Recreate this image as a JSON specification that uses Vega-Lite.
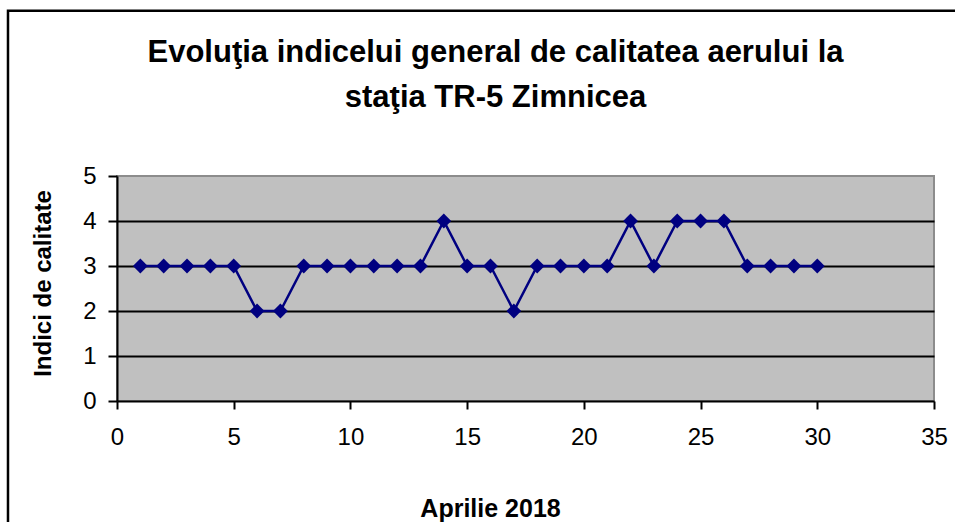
{
  "$schema": "https://vega.github.io/schema/vega-lite/v6.json",
  "width": 817,
  "height": 225,
  "autosize": {"type": "none"},
  "padding": {"left": 117, "top": 176, "right": 21, "bottom": 121},
  "background": "white",
  "title": {
    "text": ["Evoluţia indicelui general de calitatea aerului la", "staţia TR-5 Zimnicea"],
    "font": "Liberation Sans",
    "fontSize": 31,
    "fontWeight": "bold",
    "color": "black",
    "lineHeight": 45,
    "anchor": "middle",
    "frame": "group",
    "dx": -30,
    "baseline": "alphabetic",
    "offset": -128
  },
  "config": {
    "view": {"fill": "#C0C0C0", "stroke": "#8c8c8c", "strokeWidth": 2},
    "font": "Liberation Sans"
  },
  "data": {
    "values": [
      {"day": 1, "index": 3}, {"day": 2, "index": 3}, {"day": 3, "index": 3}, {"day": 4, "index": 3},
      {"day": 5, "index": 3}, {"day": 6, "index": 2}, {"day": 7, "index": 2}, {"day": 8, "index": 3},
      {"day": 9, "index": 3}, {"day": 10, "index": 3}, {"day": 11, "index": 3}, {"day": 12, "index": 3},
      {"day": 13, "index": 3}, {"day": 14, "index": 4}, {"day": 15, "index": 3}, {"day": 16, "index": 3},
      {"day": 17, "index": 2}, {"day": 18, "index": 3}, {"day": 19, "index": 3}, {"day": 20, "index": 3},
      {"day": 21, "index": 3}, {"day": 22, "index": 4}, {"day": 23, "index": 3}, {"day": 24, "index": 4},
      {"day": 25, "index": 4}, {"day": 26, "index": 4}, {"day": 27, "index": 3}, {"day": 28, "index": 3},
      {"day": 29, "index": 3}, {"day": 30, "index": 3}
    ]
  },
  "layer": [
    {
      "mark": {"type": "line", "color": "#000080", "strokeWidth": 2.5},
      "encoding": {
        "x": {
          "field": "day", "type": "quantitative",
          "scale": {"domain": [0, 35], "nice": false, "zero": false},
          "axis": {
            "values": [0, 5, 10, 15, 20, 25, 30, 35],
            "title": "Aprilie 2018",
            "titleX": 373, "titleY": 115, "titleBaseline": "alphabetic", "titleAlign": "center",
            "titleFontSize": 25, "titleFontWeight": "bold", "titleColor": "black",
            "labelFontSize": 24, "labelColor": "black", "labelPadding": 16,
            "labelFlush": false, "labelOverlap": false,
            "tickSize": 8, "tickColor": "black", "tickWidth": 2,
            "domainColor": "black", "domainWidth": 2, "grid": false
          }
        },
        "y": {
          "field": "index", "type": "quantitative",
          "scale": {"domain": [0, 5], "nice": false},
          "axis": {
            "values": [0, 1, 2, 3, 4, 5],
            "title": "Indici de calitate",
            "titleX": -67, "titleY": 107, "titleBaseline": "alphabetic", "titleAlign": "center", "titleAngle": -90,
            "titleFontSize": 24, "titleFontWeight": "bold", "titleColor": "black",
            "labelFontSize": 24, "labelColor": "black", "labelPadding": 12,
            "tickSize": 9, "tickColor": "black", "tickWidth": 2,
            "domainColor": "black", "domainWidth": 2,
            "grid": true, "gridColor": "black", "gridWidth": 2,
            "gridOpacity": {"condition": {"test": "datum.value == 5 || datum.value == 0", "value": 0}, "value": 1}
          }
        }
      }
    },
    {
      "mark": {"type": "point", "shape": "diamond", "filled": true, "color": "#000080", "size": 220, "opacity": 1},
      "encoding": {
        "x": {"field": "day", "type": "quantitative"},
        "y": {"field": "index", "type": "quantitative"}
      }
    },
    {
      "data": {"values": [{}]},
      "mark": {"type": "rect", "fill": "transparent", "stroke": "black", "strokeWidth": 2.5},
      "encoding": {
        "x": {"datum": -4.67, "type": "quantitative"},
        "x2": {"datum": 40},
        "y": {"datum": 8.67, "type": "quantitative"},
        "y2": {"datum": -4}
      }
    }
  ]
}
